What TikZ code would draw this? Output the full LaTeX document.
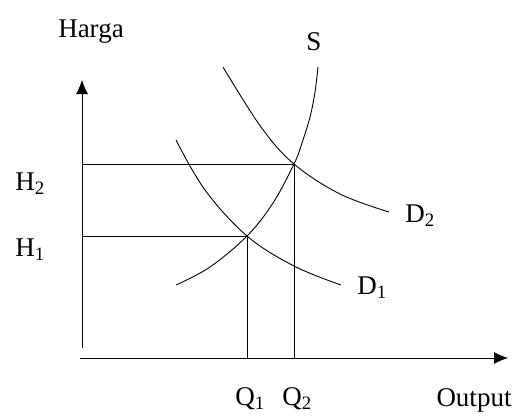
\documentclass[tikz,border=0pt]{standalone}
\usepackage{fontspec}
\setmainfont{Liberation Serif}
\usetikzlibrary{arrows.meta}

\tikzset{
  axis/.style={line width=0.9pt, -{Latex[length=14pt,width=12pt]}},
  curve/.style={line width=0.9pt},
  guide/.style={line width=0.8pt},
  lbl/.style={font=\fontsize{27}{30}\selectfont, inner sep=0pt}
}

\begin{document}
\begin{tikzpicture}[x=1pt, y=-1pt]
    \useasboundingbox (0,0) rectangle (522,415);
    % axes
    \coordinate (o1) at (82,348);
    \coordinate (ytop) at (82,80);
    \coordinate (o2) at (80,358);
    \coordinate (xend) at (508,358);
    \draw[axis] (o1) -- (ytop);
    \draw[axis] (o2) -- (xend);
    % equilibrium points
    \coordinate (e1) at (247,236);
    \coordinate (e2) at (294,164);
    \coordinate (h1) at (82,236);
    \coordinate (h2) at (82,164);
    \coordinate (q1) at (247,358);
    \coordinate (q2) at (294,358);
    \draw[guide] (h1) -- (e1) -- (q1);
    \draw[guide] (h2) -- (e2) -- (q2);
    % supply and demand curves
    \draw[curve] plot[smooth, tension=0.6] coordinates
        {(176,285) (210,267) (247,236) (273,203) (294,164) (302,143) (310,117) (315,92) (318,67)};
    \draw[curve] plot[smooth, tension=0.6] coordinates
        {(176,140) (205,190) (247,236) (294,266) (341,285)};
    \draw[curve] plot[smooth, tension=0.6] coordinates
        {(223,67) (261,127) (294,164) (340,194) (389,212)};
    % labels
    \node[lbl] (harga) at (91,32) {Harga};
    \node[lbl] (s) at (314,42) {S};
    \node[lbl] (d2) at (420,216) {D\textsubscript{2}};
    \node[lbl] (d1) at (372,288) {D\textsubscript{1}};
    \node[lbl] (lh2) at (30,184) {H\textsubscript{2}};
    \node[lbl] (lh1) at (30,250) {H\textsubscript{1}};
    \node[lbl] (lq1) at (250,399) {Q\textsubscript{1}};
    \node[lbl] (lq2) at (297,399) {Q\textsubscript{2}};
    \node[lbl] (out) at (474,400) {Output};
\end{tikzpicture}
\end{document}
